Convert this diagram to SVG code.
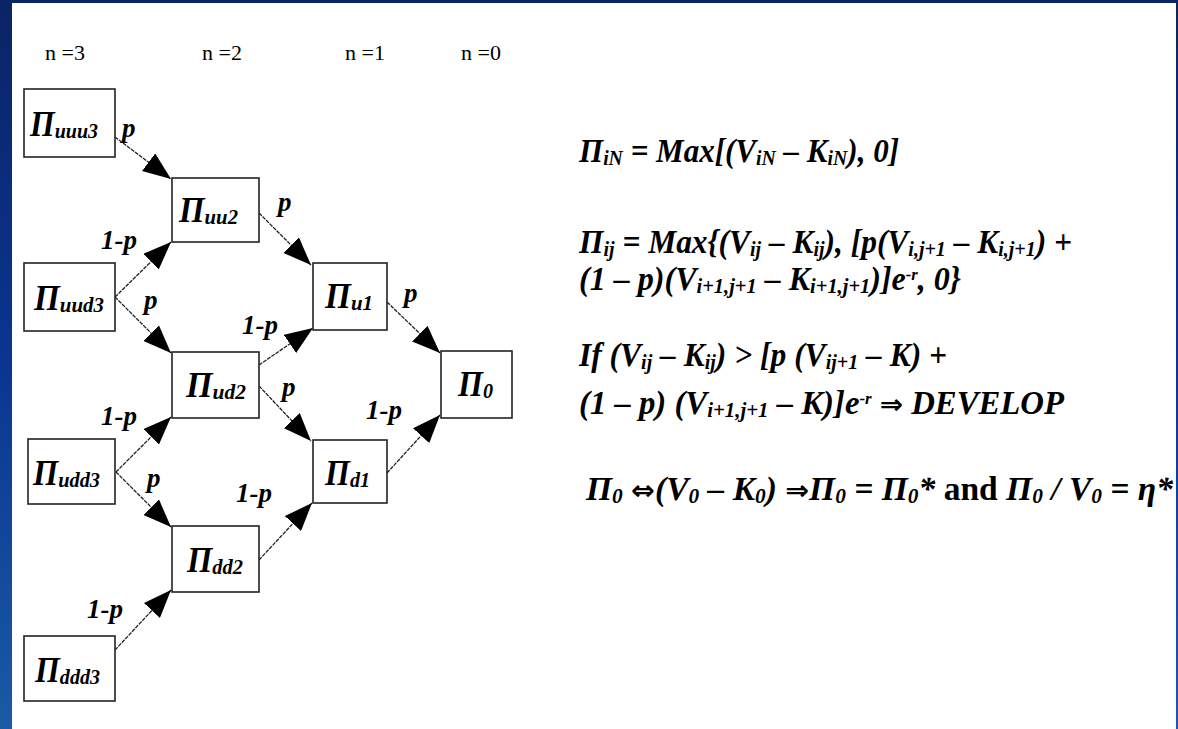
<svg xmlns="http://www.w3.org/2000/svg" width="1178" height="729" viewBox="0 0 1178 729">
<defs>
<linearGradient id="bg" x1="0" y1="0" x2="0" y2="1">
<stop offset="0" stop-color="#0a2466"/>
<stop offset="0.5" stop-color="#0a3592"/>
<stop offset="1" stop-color="#1a5aa6"/>
</linearGradient>
<marker id="ah" viewBox="0 0 28 22" refX="28" refY="11" markerWidth="28" markerHeight="22" markerUnits="userSpaceOnUse" orient="auto">
<path d="M0,0 L28,11 L0,22 Z" fill="#000"/>
</marker>
<style>
.box{fill:#fff;stroke:#222;stroke-width:1.6}
.nl{font-family:"Liberation Serif","Times New Roman",serif;font-weight:bold;font-style:italic;font-size:35px;fill:#000}
.nl .s{font-size:22px}
.lab{font-family:"Liberation Serif","Times New Roman",serif;font-weight:bold;font-style:italic;font-size:27px;fill:#000}
.top{font-family:"Liberation Serif","Times New Roman",serif;font-size:22px;fill:#000}
.eq{font-family:"Liberation Serif","Times New Roman",serif;font-weight:bold;font-style:italic;font-size:33px;fill:#000}
.eq .s{font-size:21px}
.eq .sp{font-size:17px}
.eq .up{font-style:normal}
.eq .ar{font-family:"DejaVu Sans",sans-serif;font-style:normal;font-weight:bold;font-size:28px}
.con line{stroke:#222;stroke-width:1.3;stroke-dasharray:4 1;marker-end:url(#ah)}
</style>
</defs>
<rect x="0" y="0" width="1178" height="729" fill="url(#bg)"/>
<rect x="12" y="3" width="1164" height="726" fill="#fff"/>

<g id="headers">
<text class="top" x="45" y="60">n =3</text>
<text class="top" x="202" y="60">n =2</text>
<text class="top" x="345" y="60">n =1</text>
<text class="top" x="461" y="60">n =0</text>
</g>

<g id="connectors" class="con">
<line x1="115" y1="137" x2="171" y2="179"/>
<line x1="115" y1="297" x2="171" y2="242"/>
<line x1="115" y1="297" x2="171" y2="353"/>
<line x1="259" y1="213" x2="311" y2="265"/>
<line x1="259" y1="365" x2="313" y2="328"/>
<line x1="259" y1="386" x2="311" y2="441"/>
<line x1="116" y1="472" x2="171" y2="417"/>
<line x1="116" y1="472" x2="171" y2="527"/>
<line x1="259" y1="560" x2="312" y2="503"/>
<line x1="115" y1="650" x2="171" y2="590"/>
<line x1="387" y1="302" x2="440" y2="353"/>
<line x1="387" y1="473" x2="440" y2="415"/>
</g>

<g id="edge-labels">
<text class="lab" x="122" y="137">p</text>
<text class="lab" x="101" y="249">1-p</text>
<text class="lab" x="278" y="211">p</text>
<text class="lab" x="144" y="309">p</text>
<text class="lab" x="242" y="334">1-p</text>
<text class="lab" x="404" y="302">p</text>
<text class="lab" x="282" y="396">p</text>
<text class="lab" x="101" y="425">1-p</text>
<text class="lab" x="366" y="419">1-p</text>
<text class="lab" x="147" y="487">p</text>
<text class="lab" x="236" y="502">1-p</text>
<text class="lab" x="87" y="618">1-p</text>
</g>

<g id="n-uuu3"><rect class="box" x="24" y="89" width="91" height="68"/><text class="nl" x="30" y="136" textLength="68" lengthAdjust="spacingAndGlyphs">Π<tspan class="s" dy="2">uuu3</tspan></text></g>
<g id="n-uu2"><rect class="box" x="172" y="178" width="87" height="64"/><text class="nl" x="179" y="222" textLength="59" lengthAdjust="spacingAndGlyphs">Π<tspan class="s" dy="2">uu2</tspan></text></g>
<g id="n-uud3"><rect class="box" x="24" y="263" width="91" height="68"/><text class="nl" x="34" y="310" textLength="70" lengthAdjust="spacingAndGlyphs">Π<tspan class="s" dy="2">uud3</tspan></text></g>
<g id="n-u1"><rect class="box" x="313" y="263" width="74" height="67"/><text class="nl" x="325" y="308" textLength="48" lengthAdjust="spacingAndGlyphs">Π<tspan class="s" dy="2">u1</tspan></text></g>
<g id="n-ud2"><rect class="box" x="172" y="352" width="87" height="66"/><text class="nl" x="186" y="397" textLength="60" lengthAdjust="spacingAndGlyphs">Π<tspan class="s" dy="2">ud2</tspan></text></g>
<g id="n-0"><rect class="box" x="441" y="351" width="71" height="67"/><text class="nl" x="458" y="396" textLength="35" lengthAdjust="spacingAndGlyphs">Π<tspan class="s" dy="2">0</tspan></text></g>
<g id="n-udd3"><rect class="box" x="28" y="439" width="87" height="65"/><text class="nl" x="33" y="485" textLength="67" lengthAdjust="spacingAndGlyphs">Π<tspan class="s" dy="2">udd3</tspan></text></g>
<g id="n-d1"><rect class="box" x="313" y="440" width="74" height="63"/><text class="nl" x="325" y="485" textLength="45" lengthAdjust="spacingAndGlyphs">Π<tspan class="s" dy="2">d1</tspan></text></g>
<g id="n-dd2"><rect class="box" x="172" y="526" width="87" height="66"/><text class="nl" x="187" y="572" textLength="56" lengthAdjust="spacingAndGlyphs">Π<tspan class="s" dy="2">dd2</tspan></text></g>
<g id="n-ddd3"><rect class="box" x="24" y="636" width="91" height="65"/><text class="nl" x="35" y="682" textLength="65" lengthAdjust="spacingAndGlyphs">Π<tspan class="s" dy="2">ddd3</tspan></text></g>

<g id="formulas">
<text class="eq" x="579" y="162" textLength="320" lengthAdjust="spacingAndGlyphs">Π<tspan class="s" dy="3">iN</tspan><tspan dy="-3"> = Max[(V</tspan><tspan class="s" dy="3">iN</tspan><tspan dy="-3"> – K</tspan><tspan class="s" dy="3">iN</tspan><tspan dy="-3">), 0]</tspan></text>
<text class="eq" x="579" y="253" textLength="493" lengthAdjust="spacingAndGlyphs">Π<tspan class="s" dy="3">ij</tspan><tspan dy="-3"> = Max{(V</tspan><tspan class="s" dy="3">ij</tspan><tspan dy="-3"> – K</tspan><tspan class="s" dy="3">ij</tspan><tspan dy="-3">), [p(V</tspan><tspan class="s" dy="3">i,j+1</tspan><tspan dy="-3"> – K</tspan><tspan class="s" dy="3">i,j+1</tspan><tspan dy="-3">) +</tspan></text>
<text class="eq" x="579" y="290" textLength="382" lengthAdjust="spacingAndGlyphs">(1 – p)(V<tspan class="s" dy="3">i+1,j+1</tspan><tspan dy="-3"> – K</tspan><tspan class="s" dy="3">i+1,j+1</tspan><tspan dy="-3">)]e</tspan><tspan class="sp" dy="-10">-r</tspan><tspan dy="10">, 0}</tspan></text>
<text class="eq" x="579" y="366" textLength="368" lengthAdjust="spacingAndGlyphs">If (V<tspan class="s" dy="3">ij</tspan><tspan dy="-3"> – K</tspan><tspan class="s" dy="3">ij</tspan><tspan dy="-3">) &gt; [p (V</tspan><tspan class="s" dy="3">ij+1</tspan><tspan dy="-3"> – K) +</tspan></text>
<text class="eq" x="579" y="414" textLength="485" lengthAdjust="spacingAndGlyphs">(1 – p) (V<tspan class="s" dy="3">i+1,j+1</tspan><tspan dy="-3"> – K)]e</tspan><tspan class="sp" dy="-10">-r</tspan><tspan dy="10"> </tspan><tspan class="ar">⇒</tspan><tspan>  DEVELOP</tspan></text>
<text class="eq" x="586" y="500" textLength="587" lengthAdjust="spacingAndGlyphs">Π<tspan class="s" dy="3">0</tspan><tspan dy="-3"> </tspan><tspan class="ar">⇔</tspan><tspan>(V</tspan><tspan class="s" dy="3">0</tspan><tspan dy="-3"> – K</tspan><tspan class="s" dy="3">0</tspan><tspan dy="-3">) </tspan><tspan class="ar">⇒</tspan><tspan>Π</tspan><tspan class="s" dy="3">0</tspan><tspan dy="-3"> = Π</tspan><tspan class="s" dy="3">0</tspan><tspan dy="-3">* </tspan><tspan class="up">and</tspan><tspan> Π</tspan><tspan class="s" dy="3">0</tspan><tspan dy="-3"> / V</tspan><tspan class="s" dy="3">0</tspan><tspan dy="-3"> = η*</tspan></text>
</g>
</svg>
